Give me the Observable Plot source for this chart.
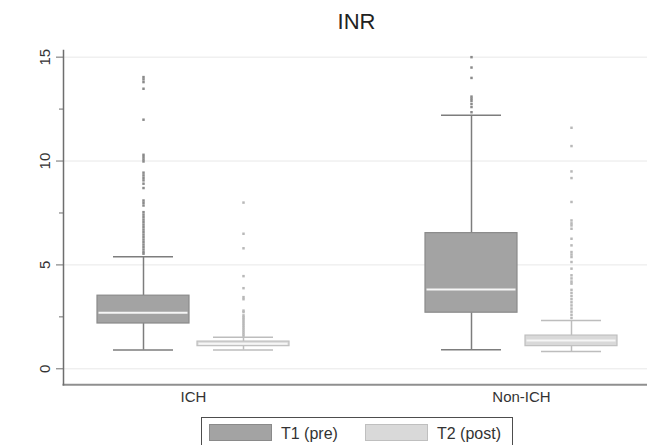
<!DOCTYPE html>
<html>
<head>
<meta charset="utf-8">
<script src="https://cdn.jsdelivr.net/npm/d3@7"></script>
<script src="https://cdn.jsdelivr.net/npm/@observablehq/plot@0.6"></script>
<style>
  body { margin: 0; background: #fff; font-family: "Liberation Sans", Arial, sans-serif; }
  #wrap { position: relative; width: 647px; height: 445px; overflow: hidden; background: #fff; }
  #title { position: absolute; left: 63px; width: 587px; top: 11px; text-align: center;
           font-size: 22px; line-height: 22px; color: #222; }
  #back, #chart { position: absolute; left: 0; top: 40px; }
  #legend { position: absolute; left: 200.7px; top: 416.7px; width: 312px; height: 40px;
            box-sizing: border-box; border: 1px solid #4d4d4d; background: #fff; }
  .sw { position: absolute; top: 6px; width: 62.7px; height: 17.7px; box-sizing: border-box; }
  .lt { position: absolute; top: 8px; font-size: 16px; line-height: 16px; color: #333; white-space: nowrap; }
</style>
</head>
<body>
<div id="wrap">
  <div id="title">INR</div>
  <div id="back"></div>
  <div id="chart"></div>
  <div id="legend"></div>
</div>
<script>
// ---- data ----
const groups = ["ICH", "Non-ICH"];
const series = ["T1 (pre)", "T2 (post)"];
const boxGroup = ["ICH", "ICH", "Non-ICH", "Non-ICH"];
const boxSeries = ["T1 (pre)", "T2 (post)", "T1 (pre)", "T2 (post)"];
const whiskerLow = [0.90, 0.90, 0.92, 0.83];
const q1 = [2.18, 1.09, 2.70, 1.09];
const median = [2.70, 1.20, 3.82, 1.36];
const q3 = [3.52, 1.31, 6.53, 1.60];
const whiskerHigh = [5.39, 1.52, 12.20, 2.33];

const outliersIchT1 = [14.04, 13.93, 13.80, 13.48, 11.99, 10.30, 10.19, 10.08, 9.98,
  9.44, 9.31, 9.19, 9.07, 8.91, 8.70, 8.10, 7.99, 7.86, 7.54, 7.42, 7.30, 7.18, 7.06,
  6.94, 6.82, 6.70, 6.58, 6.46, 6.34, 6.22, 6.10, 5.98, 5.86, 5.74, 5.62, 5.54];
const outliersIchT2 = [8.0, 6.5, 5.8, 4.46, 3.88, 3.45, 3.35, 2.8, 2.73, 2.57, 2.48,
  2.4, 2.3, 2.2, 2.1, 2.0, 1.9, 1.8, 1.7, 1.6];
const outliersNonT1 = [15.0, 14.5, 14.0, 13.1, 13.0, 12.9, 12.75, 12.6, 12.35];
const outliersNonT2 = [11.6, 10.72, 9.5, 9.18, 8.03, 7.14, 7.0, 6.9, 6.74, 6.26, 5.94,
  5.62, 5.5, 5.38, 5.14, 4.82, 4.5, 4.35, 4.2, 4.1, 3.8, 3.65, 3.5, 3.35, 3.2, 3.05,
  2.9, 2.75, 2.6, 2.45];

const yTicks = [0, 5, 10, 15];
const yMinorTicks = [2.5, 7.5, 12.5];

// ---- styles ----
const fillColors = ["#a3a3a3", "#d9d9d9"];
const edgeColor = {"T1 (pre)": "#8a8a8a", "T2 (post)": "#bfbfbf"};
const whiskerColor = {"T1 (pre)": "#7d7d7d", "T2 (post)": "#bdbdbd"};
const dotColor = {"T1 (pre)": "#8a8a8a", "T2 (post)": "#b8b8b8"};

// ---- tables ----
const boxes = boxGroup.map((g, i) => ({
  group: g, series: boxSeries[i],
  lo: whiskerLow[i], q1: q1[i], med: median[i], q3: q3[i], hi: whiskerHigh[i]
}));
const outlierSets = [
  ["ICH", "T1 (pre)", outliersIchT1],
  ["ICH", "T2 (post)", outliersIchT2],
  ["Non-ICH", "T1 (pre)", outliersNonT1],
  ["Non-ICH", "T2 (post)", outliersNonT2]
];
const outliers = outlierSets.flatMap(([g, s, vals]) => vals.map(v => ({group: g, series: s, value: v})));

const font = '"Liberation Sans", Arial, sans-serif';
const common = {
  width: 647, height: 375,
  marginTop: 10, marginBottom: 30.7, marginLeft: 63, marginRight: 0,
  style: {fontFamily: font, fontSize: "15px", color: "#333", background: "transparent"}
};
const yDomain = [-0.77, 15.32];

// background: gridlines, axis lines, y axis (spans the whole frame)
const back = Plot.plot({
  ...common,
  y: {domain: yDomain},
  marks: [
    Plot.ruleY(yTicks, {stroke: "#e8e8e8", strokeWidth: 1}),
    Plot.frame({anchor: "bottom", stroke: "#8f8f8f", strokeWidth: 2}),
    Plot.frame({anchor: "left", stroke: "#6e6e6e", strokeWidth: 1.5}),
    Plot.axisY({ticks: yTicks, tickSize: 7, tickPadding: 7, tickRotate: -90, stroke: "#6e6e6e", label: null, fontSize: 15}),
    Plot.axisY({ticks: yMinorTicks, tickSize: 4, tickFormat: () => "", stroke: "#6e6e6e", label: null})
  ]
});
document.getElementById("back").appendChild(back);

// foreground: faceted boxes
const chart = Plot.plot({
  ...common,
  fx: {domain: groups, paddingInner: 0.20732, paddingOuter: -0.0061, align: 0, label: null},
  x: {domain: series, paddingInner: 0.08, paddingOuter: 0.34, align: 0.5, axis: null},
  y: {domain: yDomain, axis: null},
  color: {domain: series, range: fillColors},
  marks: [
    Plot.ruleX(boxes, {fx: "group", x: "series", y1: "lo", y2: "q1", stroke: d => whiskerColor[d.series], strokeWidth: 1.5}),
    Plot.ruleX(boxes, {fx: "group", x: "series", y1: "q3", y2: "hi", stroke: d => whiskerColor[d.series], strokeWidth: 1.5}),
    Plot.tickY(boxes, {fx: "group", x: "series", y: "lo", stroke: d => whiskerColor[d.series], strokeWidth: 1.5, insetLeft: 16, insetRight: 16}),
    Plot.tickY(boxes, {fx: "group", x: "series", y: "hi", stroke: d => whiskerColor[d.series], strokeWidth: 1.5, insetLeft: 16, insetRight: 16}),
    Plot.barY(boxes, {fx: "group", x: "series", y1: "q1", y2: "q3", fill: "series", stroke: d => edgeColor[d.series], strokeWidth: 1.2}),
    Plot.tickY(boxes, {fx: "group", x: "series", y: "med", stroke: "#f6f6f6", strokeWidth: 2, insetLeft: 1.5, insetRight: 1.5}),
    Plot.dot(outliers, {fx: "group", x: "series", y: "value", symbol: "square", r: 1.4, fill: d => dotColor[d.series], stroke: "none"}),
    Plot.axisFx({anchor: "bottom", tickSize: 0, tickPadding: 7, label: null, fontSize: 15})
  ]
});
document.getElementById("chart").appendChild(chart);

// ---- legend ----
const legend = document.getElementById("legend");
const swLeft = [7.3, 163.3];
const txLeft = [79.3, 235.3];
series.forEach((s, i) => {
  const sw = document.createElement("div");
  sw.className = "sw";
  sw.style.left = swLeft[i] + "px";
  sw.style.background = fillColors[i];
  sw.style.border = "1px solid " + edgeColor[s];
  legend.appendChild(sw);
  const t = document.createElement("div");
  t.className = "lt";
  t.style.left = txLeft[i] + "px";
  t.textContent = s;
  legend.appendChild(t);
});
</script>
</body>
</html>
